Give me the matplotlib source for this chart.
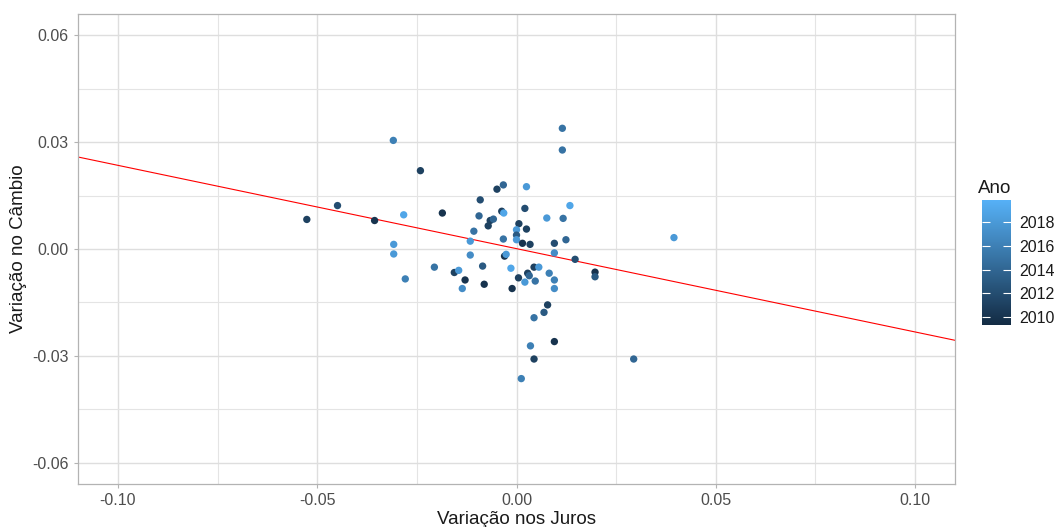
import numpy as np
import matplotlib
matplotlib.use("Agg")
import matplotlib.pyplot as plt
from matplotlib.colors import LinearSegmentedColormap, Normalize

plt.rcParams['font.family'] = ['Liberation Sans', 'DejaVu Sans']

# variação nos juros (x), variação no câmbio (y), ano
juros = [-0.0309, -0.0241, -0.0449, -0.0526, -0.0356, -0.0283, -0.0186, -0.0308,
         -0.0308, -0.0279, -0.0206, -0.0156, -0.0145, -0.0129, -0.0136, -0.0116,
         -0.0116, -0.0107, -0.0094, -0.0091, 0.0115, 0.0115, -0.0049, -0.0033,
         0.0025, -0.0037, -0.0032, 0.0021, 0.0134, -0.0066, -0.0058, -0.0071,
         0.0076, 0.0117, 0.0006, 0.0000, 0.0025, 0.0000, 0.0000, -0.0033,
         0.0015, 0.0034, 0.0095, 0.0124, 0.0395, 0.0095, 0.0147, -0.0030,
         -0.0026, -0.0085, -0.0014, 0.0044, 0.0056, 0.0082, 0.0197, 0.0197,
         0.0028, 0.0032, 0.0005, 0.0021, 0.0047, 0.0095, 0.0095, -0.0081,
         -0.0011, 0.0078, 0.0069, 0.0044, 0.0095, 0.0035, 0.0044, 0.0294,
         0.0012]
cambio = [0.0305, 0.0220, 0.0122, 0.0083, 0.0080, 0.0096, 0.0101, 0.0013,
          -0.0014, -0.0084, -0.0051, -0.0066, -0.0060, -0.0087, -0.0111, -0.0017,
          0.0022, 0.0050, 0.0093, 0.0138, 0.0339, 0.0278, 0.0168, 0.0180,
          0.0175, 0.0106, 0.0101, 0.0114, 0.0122, 0.0080, 0.0084, 0.0065,
          0.0087, 0.0086, 0.0071, 0.0054, 0.0056, 0.0039, 0.0026, 0.0028,
          0.0016, 0.0013, 0.0016, 0.0026, 0.0032, -0.0011, -0.0029, -0.0020,
          -0.0015, -0.0048, -0.0054, -0.0051, -0.0051, -0.0068, -0.0065, -0.0078,
          -0.0068, -0.0075, -0.0081, -0.0093, -0.0090, -0.0087, -0.0111, -0.0099,
          -0.0111, -0.0157, -0.0178, -0.0193, -0.0260, -0.0272, -0.0309, -0.0309,
          -0.0364]
ano = [2016, 2011, 2012, 2011, 2010, 2019, 2010, 2018,
       2018, 2016, 2015, 2011, 2018, 2010, 2017, 2017,
       2018, 2015, 2014, 2012, 2015, 2015, 2011, 2014,
       2018, 2011, 2019, 2012, 2019, 2011, 2014, 2011,
       2018, 2015, 2011, 2018, 2011, 2013, 2018, 2015,
       2010, 2011, 2012, 2014, 2018, 2017, 2012, 2010,
       2018, 2013, 2019, 2011, 2018, 2016, 2010, 2013,
       2011, 2014, 2011, 2018, 2015, 2016, 2017, 2010,
       2010, 2011, 2013, 2015, 2010, 2016, 2011, 2014,
       2016]

# reta de regressão
intercepto = 0.0001
inclinacao = -0.234

ano_ticks = [2010, 2012, 2014, 2016, 2018]

cmap = LinearSegmentedColormap.from_list('gg', ['#132B43', '#56B1F7'])
norm = Normalize(vmin=2009.3, vmax=2019.9)

fig = plt.figure(figsize=(10.57, 5.27), dpi=100)
ax = fig.add_axes([78 / 1057, 1 - 484 / 527, (955 - 78) / 1057, (484 - 14) / 527])

ax.set_xlim(-0.11, 0.11)
ax.set_ylim(-0.066, 0.066)
ax.set_xticks([-0.10, -0.05, 0.00, 0.05, 0.10])
ax.set_yticks([-0.06, -0.03, 0.00, 0.03, 0.06])
ax.set_xticks([-0.075, -0.025, 0.025, 0.075], minor=True)
ax.set_yticks([-0.045, -0.015, 0.015, 0.045], minor=True)
ax.set_xticklabels(['-0.10', '-0.05', '0.00', '0.05', '0.10'])
ax.set_yticklabels(['-0.06', '-0.03', '0.00', '0.03', '0.06'])

ax.grid(True, which='major', color='#DEDEDE', linewidth=1.0)
ax.grid(True, which='minor', color='#E4E4E4', linewidth=0.8)
ax.set_axisbelow(True)
for s in ax.spines.values():
    s.set_color('#B3B3B3')
    s.set_linewidth(0.9)
ax.tick_params(which='major', color='#B3B3B3', length=3, width=0.8,
               labelsize=11.5, labelcolor='#4D4D4D')
ax.tick_params(which='minor', length=0)

ax.scatter(juros, cambio, c=ano, cmap=cmap, norm=norm, s=28, linewidths=0, zorder=3)
ax.axline((0, intercepto), slope=inclinacao, color='red', linewidth=0.8, zorder=2)

ax.set_xlabel('Variação nos Juros', fontsize=13.5, color='#1A1A1A', labelpad=2)
ax.set_ylabel('Variação no Câmbio', fontsize=13.5, color='#1A1A1A', labelpad=4)

# legenda (barra de cores)
cax = fig.add_axes([982 / 1057, 1 - 325 / 527, 29 / 1057, 125 / 527])
sm = plt.cm.ScalarMappable(norm=norm, cmap=cmap)
cb = fig.colorbar(sm, cax=cax, ticks=ano_ticks)
cb.outline.set_visible(False)
cax.tick_params(axis='y', direction='in', colors='white', length=6, width=0.8,
                left=True, right=True, labelcolor='#1A1A1A', labelsize=11.5, pad=6)
cax.set_title('Ano', fontsize=13.5, loc='left', color='#1A1A1A', pad=5, x=-0.15)

fig.savefig('out.png', dpi=100)
